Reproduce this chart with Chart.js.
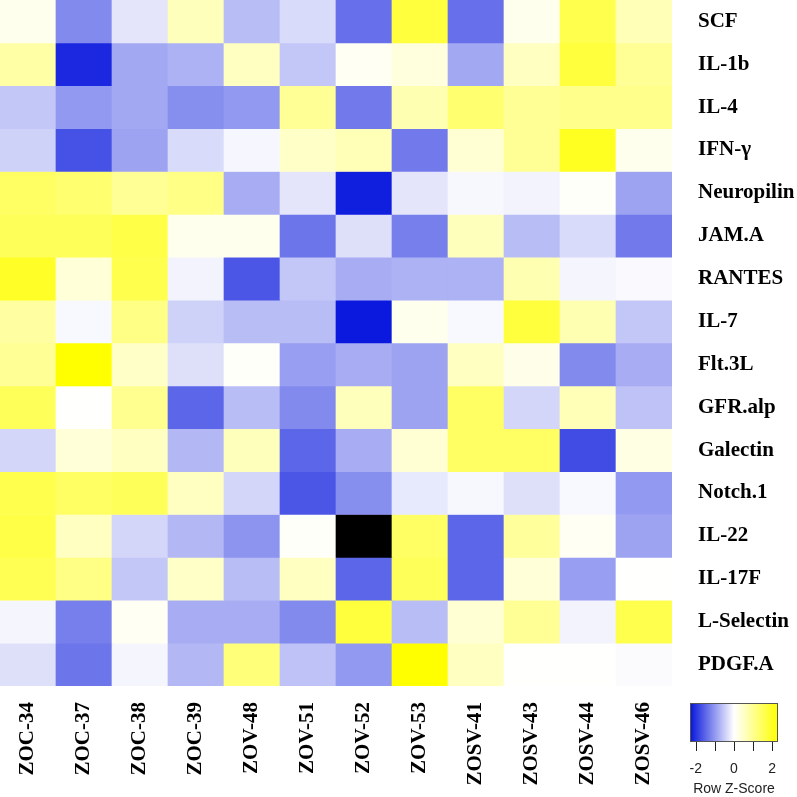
<!DOCTYPE html>
<html>
<head>
<meta charset="utf-8">
<script src="https://cdn.jsdelivr.net/npm/chart.js@4/dist/chart.umd.min.js"></script>
<style>
  body { margin: 0; background: #fff; }
  canvas { display: block; }
</style>
</head>
<body>
<canvas id="heat" width="797" height="797"></canvas>
<script>
// Samples (columns) and cytokines (rows)
const samples = ["ZOC-34", "ZOC-37", "ZOC-38", "ZOC-39", "ZOV-48", "ZOV-51",
  "ZOV-52", "ZOV-53", "ZOSV-41", "ZOSV-43", "ZOSV-44", "ZOSV-46"];
const markers = ["SCF", "IL-1b", "IL-4", "IFN-\u03b3", "Neuropilin", "JAM.A",
  "RANTES", "IL-7", "Flt.3L", "GFR.alp", "Galectin", "Notch.1", "IL-22",
  "IL-17F", "L-Selectin", "PDGF.A"];

// Row z-scores (null = missing, drawn black)
const zSCF        = [0.15, -1.15, -0.25, 0.6, -0.65, -0.35, -1.4, 1.75, -1.4, 0.15, 1.6, 0.65];
const zIL1b       = [0.8, -2.1, -0.85, -0.75, 0.55, -0.55, 0.1, 0.3, -0.85, 0.55, 1.75, 0.95];
const zIL4        = [-0.55, -1.0, -0.85, -1.1, -1.0, 0.95, -1.3, 0.7, 1.3, 0.95, 1.05, 1.05];
const zIFNg       = [-0.45, -1.7, -0.9, -0.35, -0.08, 0.5, 0.65, -1.3, 0.4, 0.95, 2.0, 0.15];
const zNeuropilin = [1.4, 1.3, 0.95, 1.1, -0.8, -0.25, -2.2, -0.25, -0.07, -0.12, 0.05, -0.9];
const zJAMA       = [1.5, 1.5, 1.65, 0.15, 0.15, -1.35, -0.3, -1.25, 0.6, -0.65, -0.35, -1.3];
const zRANTES     = [1.95, 0.35, 1.6, -0.12, -1.65, -0.55, -0.8, -0.75, -0.75, 0.7, -0.1, -0.05];
const zIL7        = [0.85, -0.06, 1.1, -0.45, -0.65, -0.65, -2.25, 0.15, -0.06, 1.75, 0.7, -0.55];
const zFlt3L      = [0.95, 2.3, 0.5, -0.3, 0.05, -0.95, -0.8, -0.9, 0.55, 0.2, -1.15, -0.8];
const zGFRalp     = [1.5, 0.02, 1.0, -1.5, -0.65, -1.15, 0.6, -0.9, 1.4, -0.4, 0.65, -0.6];
const zGalectin   = [-0.4, 0.35, 0.55, -0.7, 0.6, -1.5, -0.8, 0.4, 1.4, 1.4, -1.75, 0.25];
const zNotch1     = [1.6, 1.4, 1.5, 0.55, -0.4, -1.65, -1.1, -0.22, -0.07, -0.3, -0.06, -1.0];
const zIL22       = [1.65, 0.55, -0.4, -0.7, -1.05, 0.05, null, 1.4, -1.5, 0.9, 0.1, -0.9];
const zIL17F      = [1.55, 1.1, -0.55, 0.5, -0.65, 0.55, -1.5, 1.5, -1.5, 0.35, -0.95, 0.02];
const zLSelectin  = [-0.1, -1.25, 0.1, -0.8, -0.8, -1.15, 1.75, -0.65, 0.4, 0.95, -0.12, 1.6];
const zPDGFA      = [-0.3, -1.35, -0.1, -0.7, 1.2, -0.6, -1.0, 2.3, 0.55, 0.02, 0.02, -0.04];

const zRows = [zSCF, zIL1b, zIL4, zIFNg, zNeuropilin, zJAMA, zRANTES, zIL7,
  zFlt3L, zGFRalp, zGalectin, zNotch1, zIL22, zIL17F, zLSelectin, zPDGFA];

// Colour key
const keyTicks = [-2, -1, 0, 1, 2];
const keyLabels = [-2, 0, 2];
const zLimit = 2.3;

const LOW = [5, 20, 220];
const MID = [255, 255, 255];
const HIGH = [255, 255, 0];

function mix(a, b, t) {
  return `rgb(${a.map((v, k) => Math.round(v + (b[k] - v) * t)).join(",")})`;
}

// blue -> white -> yellow
function zColor(z) {
  if (z === null) return "#000000";
  const t = Math.min(Math.abs(z) / zLimit, 1);
  return z < 0 ? mix(MID, LOW, t) : mix(MID, HIGH, t);
}

const datasets = zRows.map((vals, i) => ({
  label: markers[i],
  data: vals.map(() => [i, i + 1]),
  backgroundColor: vals.map(zColor),
  borderWidth: 0,
  barPercentage: 1,
  categoryPercentage: 1,
  grouped: false,
}));

// Draw the Row Z-Score key in the bottom right corner
const colorKey = {
  id: "colorKey",
  afterDraw(chart) {
    const ctx = chart.ctx;
    const x0 = 690, x1 = 778, y0 = 703, y1 = 742;
    const toX = (v) => x0 + (v + zLimit) / (2 * zLimit) * (x1 - x0);

    const grad = ctx.createLinearGradient(x0, 0, x1, 0);
    grad.addColorStop(0, mix(LOW, LOW, 0));
    grad.addColorStop(0.5, mix(MID, MID, 0));
    grad.addColorStop(1, mix(HIGH, HIGH, 0));
    ctx.save();
    ctx.fillStyle = grad;
    ctx.fillRect(x0, y0, x1 - x0, y1 - y0);
    ctx.strokeStyle = "#555";
    ctx.lineWidth = 1;
    ctx.strokeRect(x0 + 0.5, y0 + 0.5, x1 - x0 - 1, y1 - y0 - 1);

    ctx.strokeStyle = "#222";
    ctx.beginPath();
    keyTicks.forEach((v) => {
      const x = Math.round(toX(v)) + 0.5;
      ctx.moveTo(x, y1);
      ctx.lineTo(x, y1 + 9);
    });
    ctx.stroke();

    ctx.fillStyle = "#222";
    ctx.font = "14px 'Liberation Sans', Arial, sans-serif";
    ctx.textAlign = "center";
    ctx.textBaseline = "middle";
    keyLabels.forEach((v) => ctx.fillText(String(v), toX(v), 769));
    ctx.fillText("Row Z-Score", (x0 + x1) / 2, 789);
    ctx.restore();
  },
};

new Chart(document.getElementById("heat"), {
  type: "bar",
  data: { labels: samples, datasets: datasets },
  options: {
    responsive: false,
    animation: false,
    layout: { padding: 0 },
    plugins: {
      legend: { display: false },
      tooltip: { enabled: false },
    },
    scales: {
      x: {
        grid: { display: false, drawTicks: false },
        border: { display: false },
        ticks: {
          color: "#000",
          font: { family: "'Liberation Serif', 'Times New Roman', serif", size: 21, weight: "bold" },
          minRotation: 90,
          maxRotation: 90,
          autoSkip: false,
          padding: 16,
        },
        afterFit: (scale) => { scale.height = 111; },
      },
      y: {
        type: "linear",
        position: "right",
        reverse: true,
        min: 0,
        max: markers.length,
        grid: { display: false, drawTicks: false },
        border: { display: false },
        afterBuildTicks: (scale) => {
          scale.ticks = markers.map((m, i) => ({ value: i + 0.5 }));
        },
        ticks: {
          color: "#000",
          font: { family: "'Liberation Serif', 'Times New Roman', serif", size: 21, weight: "bold" },
          autoSkip: false,
          padding: 26,
          callback: (v, idx) => markers[idx],
        },
        afterFit: (scale) => {
          scale.width = 125;
          scale.paddingTop = 0;
          scale.paddingBottom = 0;
        },
      },
    },
  },
  plugins: [colorKey],
});
</script>
</body>
</html>
